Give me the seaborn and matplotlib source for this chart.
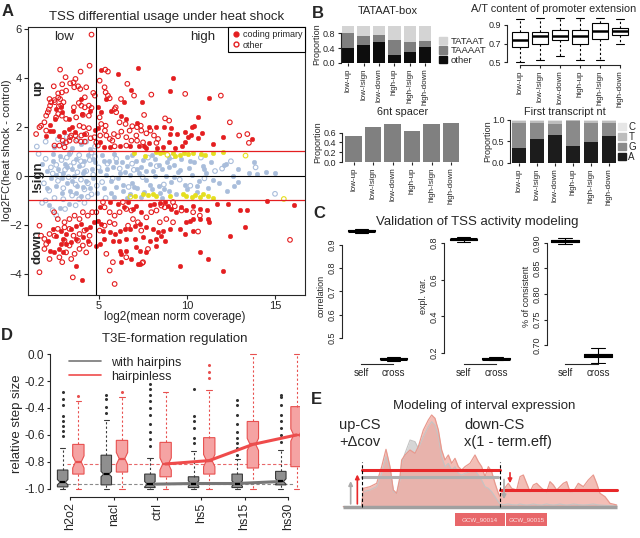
import numpy as np
import matplotlib
matplotlib.use("Agg")
import matplotlib.pyplot as plt
import seaborn as sns
from matplotlib.lines import Line2D
from matplotlib.patches import Patch, Rectangle

sns.set_style("ticks")
plt.rcParams["font.family"] = ["Liberation Sans", "DejaVu Sans"]
plt.rcParams["axes.linewidth"] = 0.8

W, H = 640, 538
RED = "#e41e20"
BLUE = "#a9bddb"
YELLOW = "#e5df1f"

# ---------------- panel A data (log2 mean norm coverage, log2FC) ----------------
up_coding = [(5.15, 4.34), (7.25, 4.41), (6.10, 4.15), (9.22, 4.01), (6.82, 3.52), (9.07, 3.47),
             (11.25, 3.20), (5.44, 3.14), (6.44, 3.03), (7.44, 3.01), (4.03, 3.16), (2.86, 2.82),
             (2.61, 2.73), (2.95, 2.60), (3.56, 2.67), (3.35, 2.33), (2.52, 2.33), (2.22, 2.08),
             (2.41, 1.85), (3.50, 1.99), (4.07, 2.53), (4.51, 2.67), (4.98, 2.80), (5.15, 2.60),
             (5.72, 2.67), (6.29, 2.46), (6.57, 2.33), (7.18, 2.16), (7.88, 1.99), (8.28, 2.01),
             (8.71, 2.00), (9.13, 1.97), (9.07, 1.73), (9.43, 1.71), (9.91, 1.81), (10.27, 1.99),
             (10.42, 2.05), (10.64, 2.39), (10.85, 1.74), (10.63, 1.54), (10.23, 1.67), (10.09, 1.58),
             (9.89, 1.40), (8.98, 1.37), (8.67, 1.20), (7.86, 1.35), (7.59, 1.24), (7.29, 1.24),
             (6.80, 1.21), (6.19, 1.24), (5.64, 1.17), (5.28, 1.17), (5.06, 1.37), (4.98, 1.95),
             (4.77, 1.88), (4.19, 1.71), (3.69, 1.81), (3.33, 1.92), (3.03, 1.81), (2.75, 1.65),
             (2.03, 1.65), (2.25, 1.85), (11.50, 1.29), (12.06, 1.59), (13.69, 1.51), (9.73, 1.24),
             (9.32, 1.14), (8.33, 1.16), (7.71, 1.14)]
up_other = [(4.60, 5.77), (4.49, 4.50), (2.82, 4.34), (3.98, 4.26), (5.38, 4.34), (5.53, 4.26),
            (3.13, 4.03), (3.69, 3.96), (3.58, 3.82), (3.39, 3.78), (3.84, 3.66), (2.94, 3.74),
            (2.46, 3.66), (3.96, 3.55), (3.16, 3.48), (2.92, 3.41), (4.70, 3.39), (4.79, 3.28),
            (4.22, 3.21), (2.71, 3.20), (2.22, 3.14), (2.82, 3.14), (3.01, 3.01), (3.88, 2.98),
            (4.02, 2.87), (4.60, 2.78), (4.45, 2.87), (4.22, 2.80), (3.60, 2.80), (5.97, 2.80),
            (6.27, 3.14), (5.63, 3.17), (5.06, 3.89), (5.34, 3.62), (5.40, 3.41), (5.53, 3.28),
            (6.63, 3.76), (7.01, 3.28), (7.99, 3.32), (7.58, 2.49), (5.91, 2.73), (6.00, 2.60),
            (6.19, 2.19), (6.53, 2.12), (6.91, 2.03), (7.18, 1.99), (7.42, 1.85), (7.39, 2.05),
            (7.94, 1.85), (8.77, 2.35), (9.00, 2.26), (9.91, 3.35), (11.93, 3.28), (12.44, 2.19),
            (12.97, 1.65), (13.43, 1.71), (13.52, 1.35), (7.71, 1.74), (6.76, 1.85), (6.29, 1.81),
            (6.10, 1.62), (5.87, 1.71), (5.78, 1.44), (5.64, 1.51), (5.44, 1.65), (5.36, 1.85),
            (5.40, 2.05), (5.15, 2.12), (3.73, 2.39), (3.92, 2.05), (4.15, 1.99), (4.45, 1.95),
            (4.30, 1.71), (4.55, 1.54), (4.22, 1.40), (4.00, 1.40), (3.73, 1.44), (3.45, 1.65),
            (3.35, 1.44), (3.16, 1.37), (2.97, 1.44), (2.50, 1.24), (2.78, 1.24), (3.07, 1.17),
            (3.39, 1.58), (3.69, 1.65), (4.02, 1.65), (3.16, 2.33), (2.92, 2.46), (2.71, 2.53),
            (2.59, 2.39), (2.75, 2.84), (2.52, 3.01), (2.03, 1.85), (1.74, 2.05), (1.46, 1.71),
            (1.65, 1.99), (1.93, 2.19), (2.03, 2.46), (2.12, 2.60), (2.18, 2.71), (2.25, 2.87),
            (2.31, 3.01), (2.50, 3.10), (4.30, 3.62), (3.62, 3.62), (2.71, 3.37), (2.88, 2.87),
            (4.45, 2.46), (4.11, 2.49), (5.06, 2.39), (7.52, 1.37), (7.18, 1.44), (8.37, 1.51),
            (7.14, 1.65), (8.14, 1.65), (8.28, 1.35), (4.77, 1.58), (4.87, 1.37), (5.09, 1.65),
            (4.96, 1.24), (6.57, 1.58), (6.86, 1.44), (6.57, 1.24), (5.91, 1.21)]
down_coding = [(5.06, -1.28), (5.63, -1.07), (6.10, -1.14), (6.42, -1.28), (6.67, -1.07), (6.95, -1.35),
               (7.14, -1.21), (7.42, -1.48), (7.90, -1.18), (8.14, -1.14), (8.47, -1.12), (8.75, -1.07),
               (8.94, -1.21), (9.13, -1.35), (9.41, -1.48), (9.70, -1.28), (9.98, -1.41), (10.36, -1.21),
               (10.74, -1.35), (11.12, -1.41), (11.69, -1.14), (12.35, -1.14), (13.01, -1.41), (13.39, -1.37),
               (14.53, -1.01), (16.10, -1.18), (2.41, -2.16), (2.59, -2.44), (2.88, -2.23), (2.97, -2.57),
               (3.16, -2.37), (3.45, -2.16), (3.73, -2.03), (4.02, -1.96), (4.26, -2.16), (4.49, -2.10),
               (4.73, -1.89), (4.96, -1.82), (5.15, -1.96), (5.25, -2.23), (5.63, -2.30), (5.91, -2.37),
               (6.19, -2.23), (6.48, -2.16), (6.76, -2.16), (7.05, -2.03), (7.33, -1.96), (7.71, -2.10),
               (8.09, -2.16), (8.37, -2.30), (8.66, -2.23), (9.03, -2.16), (7.52, -2.50), (7.90, -2.64),
               (8.28, -2.57), (8.56, -2.44), (7.05, -2.57), (6.57, -2.57), (6.16, -2.64), (5.81, -2.64),
               (5.30, -2.57), (5.06, -2.78), (4.39, -2.64), (4.11, -2.50), (3.73, -2.57), (3.45, -2.71),
               (3.16, -2.78), (2.88, -2.78), (2.78, -2.98), (2.97, -3.12), (2.50, -3.12), (2.12, -2.64),
               (2.22, -3.05), (4.87, -2.84), (7.14, -2.91), (6.57, -3.05), (6.86, -3.39), (7.33, -3.05),
               (7.71, -3.12), (8.28, -2.84), (8.75, -2.64), (9.98, -1.86), (10.17, -1.82), (10.36, -1.76),
               (10.74, -1.76), (11.21, -1.76), (11.27, -1.89), (9.60, -2.16), (10.36, -2.23), (9.89, -2.37),
               (10.74, -3.09), (11.21, -3.39), (12.44, -2.44), (13.30, -2.10), (6.19, -3.05), (6.29, -3.18),
               (6.29, -3.52), (7.33, -3.59), (3.73, -3.66), (9.60, -3.66), (12.06, -3.86), (4.07, -4.24),
               (7.22, -3.59)]
down_other = [(2.48, -1.48), (2.69, -1.76), (3.07, -1.89), (3.35, -1.76), (3.64, -1.62), (3.92, -1.76),
              (4.11, -1.48), (4.39, -1.62), (4.64, -1.48), (4.87, -1.48), (5.25, -1.07), (5.34, -1.28),
              (5.63, -1.48), (5.91, -1.62), (6.19, -1.48), (6.38, -1.07), (6.57, -1.35), (6.86, -1.41),
              (7.99, -1.48), (8.28, -1.41), (8.56, -1.21), (8.75, -1.28), (9.22, -1.07), (9.32, -1.24),
              (9.70, -1.41), (10.36, -1.48), (10.74, -1.62), (1.65, -2.03), (1.74, -2.44), (1.93, -2.57),
              (2.22, -2.37), (2.50, -2.44), (2.69, -2.16), (3.07, -2.10), (3.35, -2.16), (3.58, -2.44),
              (3.92, -2.37), (4.20, -2.23), (4.49, -2.44), (5.06, -2.23), (5.34, -2.03), (5.63, -1.89),
              (5.91, -1.96), (6.67, -2.03), (6.95, -1.76), (7.23, -1.89), (7.71, -1.69), (8.47, -1.89),
              (8.84, -1.76), (9.22, -1.89), (7.42, -2.23), (3.07, -2.64), (3.35, -2.84), (3.83, -2.64),
              (4.11, -2.84), (4.49, -2.78), (2.03, -2.78), (1.93, -2.98), (2.22, -3.39), (2.78, -3.32),
              (3.16, -3.12), (3.64, -3.18), (3.92, -2.98), (4.30, -3.12), (5.44, -3.18), (5.81, -3.52),
              (6.57, -3.32), (7.52, -3.52), (7.80, -2.98), (10.64, -2.27), (15.85, -2.61), (2.94, -3.52),
              (3.45, -3.39), (1.65, -3.93), (3.54, -4.14), (5.63, -3.86), (5.91, -4.41), (7.48, -3.55)]
nonsig_coding = [(5.2, 0.85), (5.6, 0.62), (5.9, 0.9), (6.3, 0.55), (6.6, 0.78), (7.1, 0.6), (7.4, 0.35),
                 (7.9, 0.5), (8.2, 0.7), (8.6, 0.3), (8.9, 0.55), (9.3, 0.45), (9.7, 0.68), (10.1, 0.32),
                 (10.4, 0.58), (10.9, 0.4), (11.4, 0.55), (12.1, 0.45), (12.9, 0.3), (13.8, 0.58),
                 (5.1, 0.2), (5.4, 0.05), (5.8, 0.35), (6.1, -0.1), (6.5, 0.15), (6.9, -0.3), (7.3, 0.1),
                 (7.7, -0.15), (8.1, 0.2), (8.4, -0.4), (8.8, 0.0), (9.1, -0.25), (9.5, 0.15), (9.9, -0.35),
                 (10.3, 0.05), (10.7, -0.2), (11.1, 0.1), (11.8, -0.3), (12.6, 0.0), (12.9, -0.25),
                 (13.5, 0.1), (14.0, 0.08), (14.5, 0.15), (15.0, 0.1), (5.3, -0.5), (5.7, -0.7),
                 (6.0, -0.45), (6.4, -0.6), (6.8, -0.75), (7.2, -0.5), (7.6, -0.65), (8.0, -0.55),
                 (8.5, -0.7), (9.0, -0.6), (9.4, -0.75), (10.0, -0.55), (10.6, -0.65), (11.2, -0.5),
                 (12.3, -0.6), (1.8, 0.5), (2.1, 0.2), (2.3, -0.1), (2.4, 0.6), (2.6, -0.4), (2.7, 0.3),
                 (2.8, 0.8), (2.9, -0.7), (3.0, 0.1), (3.1, 0.5), (3.2, -0.3), (3.3, 0.9), (3.4, -0.6),
                 (3.5, 0.3), (3.6, 0.0), (3.7, 0.7), (3.8, -0.4), (3.9, 0.4), (4.0, -0.8), (4.1, 0.1),
                 (4.2, 0.6), (4.3, -0.2), (4.4, 0.85), (4.5, -0.5), (4.6, 0.3), (4.7, -0.1), (4.8, 0.55),
                 (4.9, -0.7), (2.5, 1.2), (3.0, 1.35), (3.5, 1.15), (4.0, 1.3), (4.5, 1.1), (2.2, -1.2),
                 (2.8, -1.3), (3.3, -1.15),
                 (5.5, 0.3), (5.7, -0.2), (6.0, 0.55), (6.2, 0.1), (6.4, -0.35), (6.6, 0.4), (6.8, 0.05),
                 (7.0, -0.45), (7.2, 0.3), (7.5, 0.65), (7.7, 0.2), (7.9, -0.35), (8.2, 0.0), (8.4, 0.45),
                 (8.7, -0.55), (9.0, 0.35), (9.3, -0.05), (9.6, 0.25), (10.2, 0.6), (10.6, -0.4),
                 (11.0, 0.3), (11.5, -0.15), (12.2, 0.5), (12.7, -0.4), (5.9, -0.85), (6.6, -0.9),
                 (7.4, -0.85), (8.6, -0.88), (5.3, 0.6), (6.9, 0.85), (8.0, 0.85), (9.0, 0.75),
                 (2.1, -0.5), (2.4, 0.9), (2.9, -0.1), (3.2, 0.35), (3.7, -0.7), (4.2, 0.2), (4.7, 0.7),
                 (3.5, -0.2), (4.1, -0.45), (2.6, 0.05)]
nonsig_other = [(1.6, 0.9), (1.9, -0.3), (2.0, 0.7), (2.2, -0.6), (2.4, 0.1), (2.5, -0.9), (2.6, 0.45),
                (2.7, -0.2), (2.9, 0.65), (3.0, -0.5), (3.1, 0.25), (3.2, 0.75), (3.3, -0.05), (3.4, 0.4),
                (3.5, -0.8), (3.6, 0.55), (3.7, -0.35), (3.8, 0.15), (3.9, 0.85), (4.0, -0.15), (4.1, 0.45),
                (4.2, -0.55), (4.3, 0.2), (4.4, -0.3), (4.5, 0.65), (4.6, -0.75), (4.7, 0.05), (4.8, 0.8),
                (4.9, -0.4), (5.0, 0.35), (5.2, -0.25), (5.5, 0.5), (5.8, -0.1), (6.2, 0.3), (6.7, -0.45),
                (7.0, 0.25), (7.5, -0.05), (8.3, 0.4), (9.6, -0.15), (10.8, 0.75), (11.6, 0.2), (12.5, 0.6),
                (13.9, 0.35), (15.0, -0.73), (1.5, 1.2), (2.0, 1.4), (2.7, 1.5), (3.2, 1.6), (3.8, 1.5),
                (4.3, 1.4), (4.8, 1.2), (1.8, -1.1), (2.4, -1.4), (2.6, -1.6), (3.1, -1.35), (3.7, -1.2),
                (4.2, -1.1), (2.0, -1.0), (2.3, 0.35), (2.8, 0.05), (3.4, 0.95), (4.0, 0.6), (4.6, 0.95),
                (3.0, -0.95), (3.9, -0.95), (4.4, -0.85), (5.4, -0.9), (6.0, 0.7), (6.9, 0.5), (7.8, 0.75),
                (8.7, -0.35), (9.2, 0.8), (10.2, -0.4), (11.0, -0.1), (12.0, 0.3)]
near_coding = [(7.0, 0.94), (7.65, 0.83), (8.28, 0.99), (8.47, 0.94), (8.66, 0.99), (9.22, 0.94),
               (9.32, 0.83), (9.60, 0.86), (9.83, 0.94), (10.08, 0.90), (10.36, 0.94), (10.83, 0.90),
               (11.02, 0.86), (11.50, 0.94), (12.06, 0.99), (7.05, -0.80), (7.52, -0.73), (7.80, -0.78),
               (8.09, -0.73), (8.28, -0.80), (9.03, -0.80), (9.79, -0.73), (9.98, -0.80), (10.27, -0.87),
               (10.45, -0.78), (10.74, -0.87), (10.93, -0.73), (11.21, -0.83), (11.50, -0.90)]
near_other = [(13.33, 0.83), (15.5, -0.94), (6.8, -0.85), (8.9, 0.86)]

# ---------------- panel B data ----------------
groups = ["low-up", "low-!sign", "low-down", "high-up", "high-!sign", "high-down"]
tata_other = [0.40, 0.50, 0.57, 0.22, 0.30, 0.43]
tata_taaaat = [0.42, 0.24, 0.18, 0.40, 0.27, 0.16]
tata_tataat = [0.18, 0.26, 0.25, 0.38, 0.43, 0.41]
# A/T content boxes: whislo, q1, med, q3, whishi
at_stats = [(0.50, 0.66, 0.74, 0.82, 0.96), (0.52, 0.70, 0.78, 0.82, 0.98),
            (0.56, 0.74, 0.78, 0.85, 0.98), (0.52, 0.70, 0.78, 0.85, 0.98),
            (0.52, 0.75, 0.83, 0.92, 0.98), (0.70, 0.79, 0.83, 0.87, 0.96)]
spacer_6nt = [0.54, 0.72, 0.77, 0.64, 0.78, 0.79]
nt_A = [0.36, 0.55, 0.66, 0.40, 0.48, 0.63]
nt_G = [0.57, 0.39, 0.24, 0.57, 0.46, 0.29]
nt_T = [0.05, 0.04, 0.07, 0.02, 0.04, 0.06]
nt_C = [0.02, 0.02, 0.03, 0.01, 0.02, 0.02]

# ---------------- panel C data (self, cross) ----------------
val_labels = ["correlation", "expl. var.", "% of consistent"]
val_self = [0.96, 0.82, 0.904]
val_cross = [0.41, 0.17, 0.68]

# ---------------- panel D data ----------------
conditions = ["h2o2", "nacl", "ctrl", "hs5", "hs15", "hs30"]
# whislo, q1, med, q3, whishi
hp_stats = [(-1.0, -0.985, -0.95, -0.86, -0.70), (-1.0, -0.97, -0.89, -0.75, -0.49),
            (-1.0, -0.99, -0.965, -0.89, -0.77), (-1.0, -0.99, -0.96, -0.91, -0.72),
            (-1.0, -0.99, -0.96, -0.89, -0.78), (-1.0, -0.97, -0.945, -0.87, -0.71)]
hp_fliers = [[-0.28, -0.33, -0.38, -0.46, -0.50, -0.53, -0.57, -0.61],
             [-0.30, -0.33, -0.39, -0.44],
             [-0.22, -0.26, -0.30, -0.35, -0.40, -0.45, -0.52, -0.58, -0.63, -0.68],
             [-0.26, -0.46, -0.50, -0.55, -0.62, -0.66],
             [-0.34, -0.38, -0.45, -0.52, -0.58, -0.62, -0.66, -0.70, -0.75],
             [-0.30, -0.32, -0.38, -0.45, -0.50, -0.55, -0.60, -0.65]]
nohp_stats = [(-1.0, -0.89, -0.80, -0.67, -0.35), (-1.0, -0.875, -0.775, -0.64, -0.32),
              (-1.0, -0.91, -0.815, -0.655, -0.28), (-1.0, -0.89, -0.79, -0.62, -0.27),
              (-1.0, -0.845, -0.67, -0.50, 0.0), (-1.0, -0.835, -0.60, -0.39, 0.0)]
nohp_fliers = [[-0.31], [-0.28], [], [-0.08, -0.13, -0.18], [], []]

# ---------------- panel E data (schematic coverage, picture units) ----------------
cov_x = [40, 95, 100, 120, 140, 155, 168, 180, 190, 200, 210, 215, 225, 240, 255, 265, 280, 295,
         305, 315, 325, 335, 345, 355, 365, 375, 385, 395, 405, 420, 435, 445, 455, 465, 475, 485,
         495, 505, 510, 520, 535, 545, 560, 570, 580, 590, 600, 610, 620, 635, 650, 660, 670, 680,
         690, 700, 710, 720, 730, 745, 760, 775, 790, 800, 810, 825, 840, 860]
cov_heat = [0, 0, 55, 60, 70, 120, 172, 120, 50, 40, 90, 140, 155, 170, 160, 180, 230, 260, 275,
            265, 230, 170, 140, 155, 130, 145, 120, 110, 120, 130, 155, 135, 120, 90, 120, 105, 70,
            40, 30, 50, 70, 55, 50, 90, 95, 70, 45, 65, 70, 55, 45, 75, 65, 50, 60, 70, 75, 45, 45,
            70, 60, 80, 95, 70, 40, 30, 10, 5]
cov_ctrl = [0, 0, 45, 50, 60, 100, 150, 110, 45, 40, 80, 130, 160, 200, 195, 175, 210, 240, 255,
            245, 210, 150, 120, 130, 110, 120, 100, 95, 100, 105, 110, 95, 80, 60, 55, 45, 30, 15,
            8, 6, 8, 6, 5, 8, 6, 5, 6, 8, 6, 5, 8, 6, 5, 6, 8, 6, 5, 6, 8, 6, 5, 6, 8, 6, 5, 4, 3, 2]
genes = ["GCW_90014", "GCW_90015"]


def px_axes(fig, left, top, right, bottom):
    return fig.add_axes([left / W, 1 - bottom / H, (right - left) / W, (bottom - top) / H])


def fig_text(fig, x, y, s, **kw):
    return fig.text(x / W, 1 - y / H, s, **kw)


def r_style(ax, ybounds=None, xbounds=None, fs=6.5):
    sns.despine(ax=ax)
    if ybounds is not None:
        ax.spines["left"].set_bounds(*ybounds)
    if xbounds is None:
        ax.spines["bottom"].set_visible(False)
        ax.tick_params(axis="x", length=0)
    else:
        ax.spines["bottom"].set_bounds(*xbounds)
    ax.tick_params(labelsize=fs, length=2.5, width=0.8, pad=1.5)


def stats_list(rows, fliers=None, notch=0.0):
    out = []
    for i, (lo, q1, med, q3, hi) in enumerate(rows):
        out.append(dict(whislo=lo, q1=q1, med=med, q3=q3, whishi=hi,
                        fliers=(fliers[i] if fliers else []), cilo=med - notch, cihi=med + notch))
    return out


def scatter_pts(ax, pts, color, filled):
    x = [p[0] for p in pts]
    y = [p[1] for p in pts]
    if filled:
        sns.scatterplot(x=x, y=y, ax=ax, s=11, color=color, edgecolor=color, linewidth=0.3)
    else:
        sns.scatterplot(x=x, y=y, ax=ax, s=11, facecolors="none", edgecolor=color, linewidth=0.8)


def group_ticks(ax):
    ax.set_xticks(range(6))
    ax.set_xticklabels(groups, rotation=90)
    ax.tick_params(axis="x", labelsize=5.8)


fig = plt.figure(figsize=(6.4, 5.38), dpi=100)

# ================= A =================
axA = px_axes(fig, 28, 27, 305, 295)
scatter_pts(axA, nonsig_other, BLUE, False)
scatter_pts(axA, nonsig_coding, BLUE, True)
scatter_pts(axA, near_other, YELLOW, False)
scatter_pts(axA, near_coding, YELLOW, True)
scatter_pts(axA, up_other + down_other, RED, False)
scatter_pts(axA, up_coding + down_coding, RED, True)
axA.axhline(1, color=RED, lw=0.9)
axA.axhline(-1, color=RED, lw=0.9)
axA.axhline(0, color="black", lw=0.8)
axA.axvline(4.85, color="black", lw=0.8)
axA.set_xlim(1.0, 16.7)
axA.set_ylim(-4.86, 6.08)
axA.set_xticks([5, 10, 15])
axA.set_yticks([-4, -2, 0, 2, 4, 6])
axA.tick_params(labelsize=8, length=3, width=0.8, pad=1.5)
fig_text(fig, 175, 317, "log2(mean norm coverage)", fontsize=8.5, ha="center", va="center")
fig_text(fig, 7, 150, "log2FC(heat shock - control)", fontsize=8, rotation=90,
         ha="center", va="center")
axA.set_title("TSS differential usage under heat shock", fontsize=9.5, pad=5)
axA.text(3.07, 5.55, "low", fontsize=9.5, ha="center")
axA.text(10.9, 5.55, "high", fontsize=9.5, ha="center")
axA.text(1.55, 3.6, "up", fontsize=9.5, fontweight="bold", rotation=90, ha="center", va="center")
axA.text(1.55, 0.0, "!sign", fontsize=9.5, fontweight="bold", rotation=90, ha="center", va="center")
axA.text(1.55, -2.9, "down", fontsize=9.5, fontweight="bold", rotation=90, ha="center", va="center")
handles = [Line2D([], [], marker="o", ls="", color=RED, ms=3.5),
           Line2D([], [], marker="o", ls="", mfc="none", mec=RED, ms=3.5)]
leg = axA.legend(handles, ["coding primary", "other"], loc="upper right", fontsize=6.5,
                 frameon=True, fancybox=False, edgecolor="black", framealpha=1,
                 borderpad=0.3, handletextpad=0.3, handlelength=1, labelspacing=0.2,
                 borderaxespad=0.0)
leg.get_frame().set_linewidth(0.8)

# ================= B1 TATAAT-box =================
axB1 = px_axes(fig, 341, 26, 433, 63)
t_mid = [a + b for a, b in zip(tata_other, tata_taaaat)]
t_top = [a + b for a, b in zip(t_mid, tata_tataat)]
for vals, col in [(t_top, "#d4d4d4"), (t_mid, "#7f7f7f"), (tata_other, "#0d0d0d")]:
    sns.barplot(x=groups, y=vals, ax=axB1, color=col, width=0.8, saturation=1, linewidth=0)
axB1.set_xlim(-0.47, 5.5)
axB1.set_ylim(0, 1.0)
axB1.set_yticks([0, 0.4, 0.8])
axB1.set_yticklabels(["0.0", "0.4", "0.8"])
r_style(axB1, ybounds=(0, 0.8))
group_ticks(axB1)
axB1.set_ylabel("Proportion", fontsize=6.5, labelpad=1)
fig_text(fig, 388, 11, "TATAAT-box", fontsize=8, ha="center", va="center")
axB1.legend([Patch(color="#d4d4d4"), Patch(color="#7f7f7f"), Patch(color="#0d0d0d")],
            ["TATAAT", "TAAAAT", "other"], loc="lower left", bbox_to_anchor=(1.0, -0.2),
            fontsize=6.8, frameon=False, handlelength=0.9, handleheight=0.8, labelspacing=0.05,
            handletextpad=0.4, borderaxespad=0.2)

# ================= B2 A/T content =================
axB2 = px_axes(fig, 507, 17, 635, 65)
axB2.bxp(stats_list(at_stats), positions=range(6), widths=0.8, patch_artist=True,
         boxprops=dict(facecolor="white", edgecolor="black", lw=0.8),
         whiskerprops=dict(ls=(0, (2, 2)), lw=0.8), capprops=dict(lw=0.8),
         medianprops=dict(color="black", lw=1.8), manage_ticks=False)
axB2.set_xlim(-0.65, 5.75)
axB2.set_ylim(0.468, 0.986)
axB2.set_yticks([0.5, 0.7, 0.9])
r_style(axB2, ybounds=(0.5, 0.9), xbounds=(0, 5))
group_ticks(axB2)
fig_text(fig, 554, 9, "A/T content of promoter extension", fontsize=7.8, ha="center", va="center")

# ================= B3 6nt spacer =================
axB3 = px_axes(fig, 342, 122, 460, 162)
sns.barplot(x=groups, y=spacer_6nt, ax=axB3, color="#808080", width=0.85, saturation=1, linewidth=0)
axB3.set_xlim(-0.59, 5.46)
axB3.set_ylim(0, 0.82)
axB3.set_yticks([0, 0.2, 0.4, 0.6])
axB3.set_yticklabels(["0.0", "0.2", "0.4", "0.6"])
r_style(axB3, ybounds=(0, 0.6))
group_ticks(axB3)
axB3.set_ylabel("Proportion", fontsize=6.5, labelpad=1)
fig_text(fig, 403, 112, "6nt spacer", fontsize=7.8, ha="center", va="center")

# ================= B4 first transcript nt =================
axB4 = px_axes(fig, 510, 120, 618, 163)
n_ag = [a + g for a, g in zip(nt_A, nt_G)]
n_agt = [a + t for a, t in zip(n_ag, nt_T)]
n_all = [a + c for a, c in zip(n_agt, nt_C)]
for vals, col in [(n_all, "#e6e6e6"), (n_agt, "#bdbdbd"), (n_ag, "#8a8a8a"), (nt_A, "#1c1c1c")]:
    sns.barplot(x=groups, y=vals, ax=axB4, color=col, width=0.83, saturation=1, linewidth=0)
axB4.set_xlim(-0.5, 5.5)
axB4.set_ylim(0, 1.0)
axB4.set_yticks([0, 0.5, 1.0])
axB4.set_yticklabels(["0.0", "0.5", "1.0"])
r_style(axB4, ybounds=(0, 1.0))
group_ticks(axB4)
axB4.set_ylabel("Proportion", fontsize=6.5, labelpad=0)
fig_text(fig, 565, 112, "First transcript nt", fontsize=7.8, ha="center", va="center")
axB4.legend([Patch(color=c) for c in ["#e6e6e6", "#bdbdbd", "#8a8a8a", "#1c1c1c"]],
            ["C", "T", "G", "A"], loc="upper left", bbox_to_anchor=(0.98, 1.0),
            fontsize=7, frameon=False, handlelength=0.8, handleheight=0.8, labelspacing=0.0,
            handletextpad=0.3, borderaxespad=0.1, borderpad=0.1)

# ================= C validation =================
c_boxes = [(342, 412, (0.388, 0.972), (0.5, 0.9), [0.5, 0.6, 0.7, 0.8, 0.9], (0.39, 2.58), "%.1f"),
           (444, 514, (0.14, 0.882), (0.2, 0.8), [0.2, 0.4, 0.6, 0.8], (0.4, 2.55), "%.1f"),
           (547, 617, (0.663, 0.929), (0.70, 0.90), [0.70, 0.75, 0.80, 0.85, 0.90], (0.455, 2.58), "%.2f")]
c_spread = [0.004, 0.006, 0.003]
c_cross_spread = [0.005, 0.006, 0.009]
for i, (l, r, ylim, yb, yt, xl, fmt) in enumerate(c_boxes):
    ax = px_axes(fig, l, 228, r, 364)
    s, cs = c_spread[i], c_cross_spread[i]
    st = [dict(whislo=val_self[i] - 2 * s, q1=val_self[i] - s / 2, med=val_self[i],
               q3=val_self[i] + s / 2, whishi=val_self[i] + 2 * s, fliers=[]),
          dict(whislo=val_cross[i] - 1.6 * cs, q1=val_cross[i] - cs / 3, med=val_cross[i],
               q3=val_cross[i] + cs / 3, whishi=val_cross[i] + 1.6 * cs, fliers=[])]
    ax.bxp(st, positions=[1, 2], widths=0.85, boxprops=dict(lw=0.8),
           whiskerprops=dict(lw=0.8), capprops=dict(lw=0.8),
           medianprops=dict(color="black", lw=2.2), manage_ticks=False)
    ax.set_xlim(*xl)
    ax.set_ylim(*ylim)
    ax.set_yticks(yt)
    ax.set_yticklabels([fmt % v for v in yt], rotation=90, va="center")
    ax.set_xticks([1, 2])
    ax.set_xticklabels(["self", "cross"])
    r_style(ax, ybounds=yb, xbounds=(1, 2), fs=6.5)
    ax.tick_params(axis="x", labelsize=7, length=0, pad=3)
    ax.set_ylabel(val_labels[i], fontsize=6.5, labelpad=1)
fig_text(fig, 477, 222, "Validation of TSS activity modeling", fontsize=9.5, ha="center", va="center")

# ================= D T3E formation =================
axD = px_axes(fig, 50, 350, 300, 497)
pos = np.arange(6)
axD.hlines(-0.815, -0.07, 5.1, colors="#e8686a", linestyles=(0, (3, 2)), lw=0.8)
axD.hlines(-0.965, -0.07, 5.1, colors="#8a8a8a", linestyles=(0, (3, 2)), lw=0.8)
axD.bxp(stats_list(hp_stats, hp_fliers, 0.02), positions=pos - 0.17, widths=0.24,
        patch_artist=True, shownotches=True,
        boxprops=dict(facecolor="#8f8f8f", edgecolor="#3a3a3a", lw=0.8),
        whiskerprops=dict(color="#3a3a3a", ls=(0, (2, 2)), lw=0.8),
        capprops=dict(color="#3a3a3a", lw=0.8),
        medianprops=dict(color="black", lw=1.6),
        flierprops=dict(marker="o", ms=1.2, mfc="#333333", mec="#333333"),
        manage_ticks=False)
axD.bxp(stats_list(nohp_stats, nohp_fliers, 0.045), positions=pos + 0.19, widths=0.26,
        patch_artist=True, shownotches=True,
        boxprops=dict(facecolor="#f5a3a3", edgecolor="#e8504f", lw=0.8),
        whiskerprops=dict(color="#e8504f", ls=(0, (2, 2)), lw=0.8),
        capprops=dict(color="#e8504f", lw=0.8),
        medianprops=dict(color="#e8504f", lw=1.6),
        flierprops=dict(marker="o", ms=1.2, mfc="#e8504f", mec="#e8504f"),
        manage_ticks=False)
sns.lineplot(x=pos[2:] - 0.17, y=[s[2] for s in hp_stats[2:]], ax=axD, color="#777777", lw=2.2)
sns.lineplot(x=pos[2:] + 0.19, y=[s[2] for s in nohp_stats[2:]], ax=axD, color="#ef4b4b", lw=2.2)
axD.set_xlim(-0.46, 5.27)
axD.set_ylim(-1.06, 0.03)
yt = [-1.0, -0.8, -0.6, -0.4, -0.2, 0.0]
axD.set_yticks(yt)
axD.set_yticklabels(["%.1f" % v for v in yt])
axD.set_xticks(pos)
axD.set_xticklabels(conditions, rotation=90)
r_style(axD, ybounds=(-1.0, 0.0), xbounds=(0, 5), fs=8.5)
axD.tick_params(axis="x", labelsize=9)
axD.set_ylabel("relative step size", fontsize=9.5, labelpad=1)
axD.set_title("T3E-formation regulation", fontsize=9.5, pad=6)
axD.legend([Line2D([], [], color="#777777", lw=1.2), Line2D([], [], color="#ef4b4b", lw=1.2)],
           ["with hairpins", "hairpinless"], loc="upper left", bbox_to_anchor=(0.03, 1.03),
           fontsize=9, frameon=False, handlelength=2.6, labelspacing=0.15, handletextpad=0.8)

# ================= E interval expression =================
axE = px_axes(fig, 330, 400, 640, 538)
axE.fill_between(cov_x, cov_ctrl, color="#d6d6d6", lw=0)
axE.plot(cov_x, cov_ctrl, color="#c4c4c4", lw=0.8)
axE.fill_between(cov_x, cov_heat, color="#efa89e", alpha=0.75, lw=0)
axE.plot(cov_x, cov_heat, color="#e8998e", lw=0.9)
axE.plot([40, 860], [0, 0], color="#a0a0a0", lw=2.5, solid_capstyle="butt")
axE.plot([97, 510], [110, 110], color="#e8282a", lw=2.2)
axE.plot([97, 505], [90, 90], color="#b0b0b0", lw=2.2)
axE.plot([510, 860], [50, 50], color="#e8282a", lw=2.2)
axE.plot([97, 97], [0, 135], color="black", lw=0.8, ls=(0, (3, 2)))
axE.plot([510, 510], [0, 135], color="black", lw=0.8, ls=(0, (3, 2)))
for x0, y0, y1, col in [(62, 0, 85, "#aaaaaa"), (82, 0, 105, "#e8282a"),
                        (540, 110, 62, "#e8282a"), (522, 90, 14, "#aaaaaa")]:
    axE.annotate("", xy=(x0, y1), xytext=(x0, y0),
                 arrowprops=dict(arrowstyle="-|>", color=col, lw=1.2, mutation_scale=6))
axE.text(28, 245, "up-CS", fontsize=10.5, va="center")
axE.text(28, 195, "+\u0394cov", fontsize=10.5, va="center")
axE.text(403, 245, "down-CS", fontsize=10.5, va="center")
axE.text(403, 195, "x(1 - term.eff)", fontsize=10.5, va="center")
for (x0, x1), g in zip([(375, 525), (528, 650)], genes):
    axE.add_patch(Rectangle((x0, -58), x1 - x0, 38, color="#e8676a", lw=0))
    axE.text((x0 + x1) / 2, -39, g, fontsize=4.5, color="#fbe3e3", ha="center", va="center")
axE.set_xlim(0, 930)
axE.set_ylim(-94, 320)
axE.axis("off")
fig_text(fig, 484, 406, "Modeling of interval expression", fontsize=9.5, ha="center", va="center")

# panel letters
for lab, x, y in [("A", 2, 11), ("B", 312, 13), ("C", 313, 213), ("D", 1, 336), ("E", 311, 399)]:
    fig_text(fig, x, y, lab, fontsize=12, fontweight="bold", va="center")

fig.savefig("out.png", dpi=100)
